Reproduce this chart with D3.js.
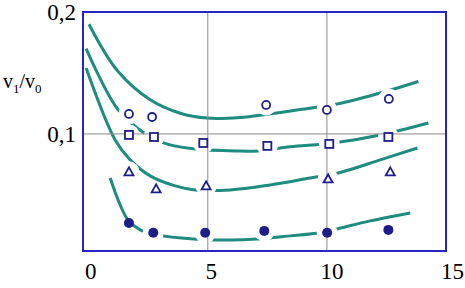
<!DOCTYPE html>
<html>
<head><meta charset="utf-8"><script src="https://cdn.jsdelivr.net/npm/d3@7"></script></head>
<body style="margin:0; font-family: 'Liberation Serif', 'Times New Roman';">
<script>
// measured points, x in mode number, y in v1/v0
const circlePts = [[1.69, 0.1164], [2.66, 0.1139], [7.45, 0.1238], [10.0, 0.1197], [12.6, 0.1287]];
const squarePts = [[1.69, 0.0992], [2.74, 0.0975], [4.81, 0.0926], [7.5, 0.0902], [10.1, 0.0918], [12.58, 0.0975]];
const trianglePts = [[1.69, 0.0689], [2.83, 0.0549], [4.93, 0.0574], [10.05, 0.0631], [12.66, 0.0689]];
const dotPts = [[1.69, 0.027], [2.71, 0.0189], [4.89, 0.0189], [7.37, 0.0205], [10.01, 0.0189], [12.58, 0.0213]];

// fitted curves
const curve1 = [[0.01, 0.190], [1.2, 0.152], [2.58, 0.128], [3.84, 0.117], [4.97, 0.113], [6.36, 0.1135], [7.45, 0.116], [8.88, 0.120], [10.43, 0.1245], [12.32, 0.134], [13.84, 0.143]];
const curve2 = [[-0.11, 0.170], [1.23, 0.120], [2.45, 0.0992], [3.42, 0.091], [4.47, 0.0877], [6.15, 0.0861], [7.1, 0.0861], [8.46, 0.0895], [10.26, 0.0926], [12.24, 0.0992], [14.26, 0.109]];
const curve3 = [[-0.11, 0.154], [1.11, 0.095], [1.74, 0.0787], [2.58, 0.0656], [3.63, 0.0574], [4.47, 0.0541], [5.94, 0.0541], [7.62, 0.0582], [9.3, 0.0639], [10.48, 0.068], [12.24, 0.0787], [13.8, 0.0885]];
const curve4 = [[0.9, 0.0639], [1.32, 0.0418], [1.65, 0.0295], [2.16, 0.0213], [2.87, 0.0172], [4.39, 0.0139], [5.94, 0.0131], [7.07, 0.0139], [8.46, 0.0164], [9.72, 0.0189], [10.43, 0.0221], [11.82, 0.0287], [13.5, 0.0352]];
const curves = [curve1, curve2, curve3, curve4];

const xTicks = [0, 5, 10, 15];
const yTicks = [0.1, 0.2];
const xGrid = [5, 10];
const yGrid = [0.1];

const width = 465, height = 288;
const box = {left: 83, right: 446, top: 12, bottom: 251};

const X = d3.scaleLinear().domain([-0.24, 15]).range([box.left, box.right]);
const Y = d3.scaleLinear().domain([0.004, 0.2]).range([box.bottom, box.top]);

const svg = d3.select('body').append('svg')
  .attr('width', width).attr('height', height)
  .attr('font-family', 'Liberation Serif, Times New Roman');

const markColor = '#1e1e8a';
const curveColor = '#1f8c80';

const line = d3.line()
  .x(d => X(d[0]))
  .y(d => Y(d[1]))
  .curve(d3.curveCatmullRom.alpha(0.5));

// fitted curves
svg.append('g')
  .selectAll('path').data(curves).join('path')
  .attr('d', line)
  .attr('fill', 'none')
  .attr('stroke', curveColor)
  .attr('stroke-width', 3);

// white halos break the curves around measured points
const allPts = [].concat(circlePts, squarePts, trianglePts.filter((d, i) => i !== 1), dotPts.slice(1));
svg.append('g').selectAll('circle').data(allPts).join('circle')
  .attr('cx', d => X(d[0])).attr('cy', d => Y(d[1])).attr('r', 10.5)
  .attr('fill', '#fff');

// grid
svg.append('g').selectAll('line').data(xGrid).join('line')
  .attr('x1', d => X(d)).attr('x2', d => X(d))
  .attr('y1', box.top).attr('y2', box.bottom)
  .attr('stroke', '#8a8a8a').attr('stroke-width', 1);
svg.append('g').selectAll('line').data(yGrid).join('line')
  .attr('y1', d => Y(d)).attr('y2', d => Y(d))
  .attr('x1', box.left).attr('x2', box.right)
  .attr('stroke', '#8a8a8a').attr('stroke-width', 1);

// frame
svg.append('rect')
  .attr('x', box.left).attr('y', box.top)
  .attr('width', box.right - box.left).attr('height', box.bottom - box.top)
  .attr('fill', 'none').attr('stroke', '#2424c8').attr('stroke-width', 2);

// markers
const marks = svg.append('g').attr('stroke', markColor).attr('stroke-width', 1.8);
marks.selectAll('.c').data(circlePts).join('circle').attr('class', 'c')
  .attr('cx', d => X(d[0])).attr('cy', d => Y(d[1])).attr('r', 4)
  .attr('fill', '#fff');
marks.selectAll('.s').data(squarePts).join('rect').attr('class', 's')
  .attr('x', d => X(d[0]) - 4).attr('y', d => Y(d[1]) - 4)
  .attr('width', 8).attr('height', 8)
  .attr('fill', '#fff');
marks.selectAll('.t').data(trianglePts).join('path').attr('class', 't')
  .attr('d', d => {
    const x = X(d[0]), y = Y(d[1]);
    return `M${x},${y - 4.5}L${x + 4.5},${y + 3.5}L${x - 4.5},${y + 3.5}Z`;
  })
  .attr('fill', '#fff');
marks.selectAll('.d').data(dotPts).join('circle').attr('class', 'd')
  .attr('cx', d => X(d[0])).attr('cy', d => Y(d[1])).attr('r', 5)
  .attr('fill', markColor).attr('stroke', 'none');

// tick labels
const fmt = d => d3.format('.1f')(d).replace('.', ',');
svg.selectAll('.xt').data(xTicks).join('text').attr('class', 'xt')
  .attr('x', d => X(d) + 2 + d * 0.3)
  .attr('y', 279)
  .attr('text-anchor', 'middle')
  .attr('font-size', 23)
  .style('font-family', '"Liberation Serif", "Times New Roman"')
  .text(d => String(d));
svg.selectAll('.yt').data(yTicks).join('text').attr('class', 'yt')
  .attr('x', 76)
  .attr('y', d => Y(d) + 8)
  .attr('text-anchor', 'end')
  .attr('font-size', 23)
  .style('font-family', '"Liberation Serif", "Times New Roman"')
  .text(fmt);

// axis title v1/v0
const title = svg.append('text').attr('x', 3).attr('y', 88)
  .attr('font-size', 20)
  .style('font-family', '"Liberation Serif", "Times New Roman"');
title.append('tspan').text('v');
title.append('tspan').attr('font-size', 13).attr('dy', 5).text('1');
title.append('tspan').attr('dy', -5).text('/v');
title.append('tspan').attr('font-size', 13).attr('dy', 5).text('0');
</script>
</body>
</html>
